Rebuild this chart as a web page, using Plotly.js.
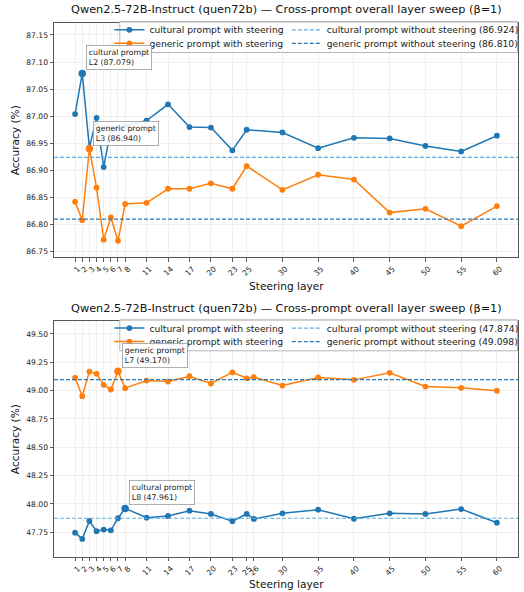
<!DOCTYPE html>
<html>
<head>
<meta charset="utf-8">
<script src="https://cdn.plot.ly/plotly-3.0.1.min.js"></script>
<style>
  html, body { margin: 0; padding: 0; background: #ffffff; }
  #chart { width: 524px; height: 592px; }
</style>
</head>
<body>
<div id="chart"></div>
<script>
// ---- Data: accuracy (%) per steering layer, quen72b, beta = 1 ----
// Panel 1
const layersTop = [1, 2, 3, 4, 5, 6, 7, 8, 11, 14, 17, 20, 23, 25, 30, 35, 40, 45, 50, 55, 60];
const culturalTop = [87.004, 87.079, 86.942, 86.997, 86.906, 86.975, 86.978, 86.982, 86.992, 87.022, 86.980,
                     86.979, 86.937, 86.975, 86.970, 86.941, 86.960, 86.959, 86.945, 86.935, 86.964];
const genericTop  = [86.842, 86.808, 86.940, 86.868, 86.772, 86.813, 86.770, 86.838, 86.840, 86.866, 86.866,
                     86.876, 86.866, 86.908, 86.864, 86.892, 86.883, 86.822, 86.829, 86.797, 86.834];
const culturalBaseTop = 86.924;
const genericBaseTop  = 86.810;
const yTicksTop = [86.75, 86.80, 86.85, 86.90, 86.95, 87.00, 87.05, 87.10, 87.15];

// Panel 2
const layersBottom = [1, 2, 3, 4, 5, 6, 7, 8, 11, 14, 17, 20, 23, 25, 26, 30, 35, 40, 45, 50, 55, 60];
const culturalBottom = [47.747, 47.692, 47.850, 47.760, 47.774, 47.768, 47.874, 47.961, 47.879, 47.894, 47.941,
                        47.912, 47.848, 47.912, 47.868, 47.918, 47.950, 47.870, 47.918, 47.912, 47.955, 47.835];
const genericBottom  = [49.113, 48.951, 49.168, 49.148, 49.051, 49.010, 49.170, 49.022, 49.089, 49.080, 49.127,
                        49.063, 49.162, 49.109, 49.118, 49.045, 49.116, 49.095, 49.157, 49.036, 49.025, 48.999];
const culturalBaseBottom = 47.874;
const genericBaseBottom  = 49.098;
const yTicksBottom = [47.75, 48.00, 48.25, 48.50, 48.75, 49.00, 49.25, 49.50];

const chartTitle = 'Qwen2.5-72B-Instruct (quen72b) \u2014 Cross-prompt overall layer sweep (\u03b2=1)';
const seriesNames = ['cultural prompt with steering', 'generic prompt with steering'];
const baseNames = ['cultural prompt without steering', 'generic prompt without steering'];
const promptNames = ['cultural prompt', 'generic prompt'];

// ---- Styling ----
const W = 524, H = 592;
const M = { l: 54, r: 1, t: 0, b: 0 };
const PW = W - M.l - M.r;
const FONT = 'DejaVu Sans, sans-serif';
const BLUE = '#1f77b4', ORANGE = '#ff7f0e';
const BASE_CULT = '#5dade2', BASE_GEN = '#2a78b8';

const px2x = p => (p - M.l) / PW;   // horizontal pixel -> paper
const px2y = p => 1 - p / H;        // vertical pixel -> paper

const traces = [];
const shapes = [];
const annotations = [];
const layout = {
  width: W, height: H,
  margin: M,
  paper_bgcolor: '#ffffff',
  plot_bgcolor: '#ffffff',
  font: { family: FONT, color: '#222222' },
  showlegend: true,
  hovermode: false
};

function panel(idx, cfg) {
  const xa = idx === 0 ? 'x' : 'x2';
  const ya = idx === 0 ? 'y' : 'y2';
  const xKey = idx === 0 ? 'xaxis' : 'xaxis2';
  const yKey = idx === 0 ? 'yaxis' : 'yaxis2';
  const lg = n => 'legend' + (idx * 4 + n === 1 ? '' : String(idx * 4 + n));

  layout[xKey] = {
    anchor: ya, domain: [0, 1], range: [-1.95, 62.95],
    tickmode: 'array', tickvals: cfg.layers, ticktext: cfg.layers.map(String),
    tickangle: -45, ticklabelshift: 3,
    tickfont: { size: 7.6, color: '#222222', family: FONT },
    ticks: 'outside', ticklen: 3.5, tickwidth: 0.8, tickcolor: '#333333',
    showline: true, mirror: true, linecolor: '#555555', linewidth: 1,
    showgrid: true, gridcolor: '#ebebeb', gridwidth: 0.8, zeroline: false
  };
  layout[yKey] = {
    anchor: xa, domain: cfg.domain, range: cfg.yRange,
    tickmode: 'array', tickvals: cfg.yTicks, tickformat: '.2f',
    tickfont: { size: 7.6, color: '#222222', family: FONT },
    ticks: 'outside', ticklen: 3.5, tickwidth: 0.8, tickcolor: '#333333',
    showline: true, mirror: true, linecolor: '#555555', linewidth: 1,
    showgrid: true, gridcolor: '#ebebeb', gridwidth: 0.8, zeroline: false
  };

  // legend frame shared by the four entries
  shapes.push({
    type: 'rect', xref: 'paper', yref: 'paper', layer: 'above',
    x0: px2x(120.5), x1: px2x(522.5), y0: px2y(cfg.legendTop + 31), y1: px2y(cfg.legendTop),
    fillcolor: 'rgba(255,255,255,0.8)', line: { color: '#b4b4b4', width: 1 }
  });

  // baselines (horizontal dashed lines across the axes)
  const bases = [cfg.culturalBase, cfg.genericBase];
  const baseColors = [BASE_CULT, BASE_GEN];
  bases.forEach((b, i) => {
    shapes.push({
      type: 'line', xref: xa + ' domain', yref: ya, x0: 0, x1: 1, y0: b, y1: b,
      layer: 'above',
      line: { color: baseColors[i], width: 1.2, dash: '4px,2px' },
      showlegend: true, legend: lg(3 + i),
      name: baseNames[i] + ' (' + b.toFixed(3) + ')'
    });
  });

  // steering series
  const series = [cfg.cultural, cfg.generic];
  const colors = [BLUE, ORANGE];
  series.forEach((ys, i) => {
    traces.push({
      type: 'scatter', mode: 'lines+markers', x: cfg.layers, y: ys,
      xaxis: xa, yaxis: ya, name: seriesNames[i], legend: lg(1 + i),
      line: { color: colors[i], width: 1.5 },
      marker: { color: colors[i], size: 5.8 }
    });
    // emphasise the best layer
    const best = ys.indexOf(Math.max(...ys));
    traces.push({
      type: 'scatter', mode: 'markers', x: [cfg.layers[best]], y: [ys[best]],
      xaxis: xa, yaxis: ya, showlegend: false,
      marker: { color: colors[i], size: 7.5 }
    });
    annotations.push({
      xref: xa, yref: ya, x: cfg.layers[best], y: ys[best],
      xanchor: 'left', yanchor: 'bottom', xshift: 4, yshift: 3,
      showarrow: false, align: 'left',
      text: promptNames[i] + '<br>L' + cfg.layers[best] + ' (' + ys[best].toFixed(3) + ')',
      font: { size: 7.8, family: FONT, color: '#222222' },
      bgcolor: 'rgba(255,255,255,0.9)', bordercolor: '#9a9a9a', borderwidth: 0.8, borderpad: 2
    });
  });

  // legend entries: column-major, two columns
  const cols = [150, 329.3];
  const rows = [cfg.legendTop + 8.3, cfg.legendTop + 21.8];
  [[0, 0], [0, 1], [1, 0], [1, 1]].forEach(([c, r], k) => {
    const n = c * 2 + r + 1;
    layout[lg(n)] = {
      x: px2x(cols[c] - 40), y: px2y(rows[r]), xanchor: 'left', yanchor: 'middle',
      bgcolor: 'rgba(0,0,0,0)', borderwidth: 0,
      font: { size: 9.2, family: FONT, color: '#222222' }
    };
  });

  // panel title and axis labels
  annotations.push({
    xref: 'paper', yref: 'paper', x: 0.5, y: px2y(cfg.titleY), xanchor: 'center', yanchor: 'middle',
    showarrow: false, text: chartTitle, font: { size: 11.3, family: FONT, color: '#111111' }
  });
  annotations.push({
    xref: 'paper', yref: ya + ' domain', x: px2x(14), y: 0.5, xanchor: 'center', yanchor: 'middle',
    showarrow: false, textangle: -90, text: 'Accuracy (%)', font: { size: 10.6, family: FONT, color: '#111111' }
  });
  annotations.push({
    xref: 'paper', yref: 'paper', x: 0.5, y: px2y(cfg.xLabelY), xanchor: 'center', yanchor: 'middle',
    showarrow: false, text: 'Steering layer', font: { size: 10.6, family: FONT, color: '#111111' }
  });
}

panel(0, {
  layers: layersTop, cultural: culturalTop, generic: genericTop,
  culturalBase: culturalBaseTop, genericBase: genericBaseTop,
  yTicks: yTicksTop, yRange: [86.740, 87.1727],
  domain: [px2y(257), px2y(22.7)],
  legendTop: 21.5, titleY: 10, xLabelY: 285.7
});
panel(1, {
  layers: layersBottom, cultural: culturalBottom, generic: genericBottom,
  culturalBase: culturalBaseBottom, genericBase: genericBaseBottom,
  yTicks: yTicksBottom, yRange: [47.535, 49.617],
  domain: [px2y(556.7), px2y(320.7)],
  legendTop: 319.8, titleY: 308, xLabelY: 584.3
});

layout.shapes = shapes;
layout.annotations = annotations;

Plotly.newPlot('chart', traces, layout, { staticPlot: true, displayModeBar: false });
</script>
</body>
</html>
